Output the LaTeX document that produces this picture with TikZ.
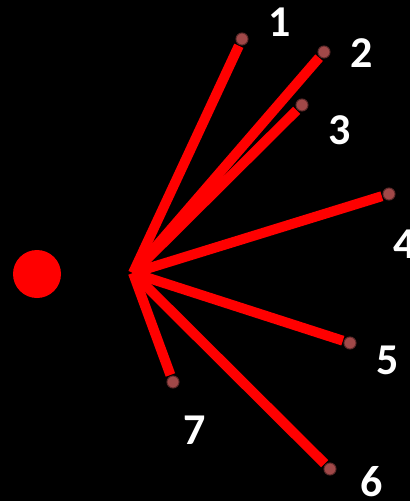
\documentclass[tikz,border=0pt]{standalone}
\usepackage{fontspec}
\setmainfont{Carlito}
\usetikzlibrary{positioning}
\definecolor{spoke}{RGB}{255,0,0}
\definecolor{tipdot}{RGB}{160,72,72}
\tikzset{tip/.style={circle,fill=tipdot,draw=tipdot!60!black,line width=1pt,inner sep=0pt,minimum size=12pt},
  num/.style={text=white,font=\bfseries\fontsize{44}{44}\selectfont,inner sep=0pt},
  line/.style={spoke,line width=10pt,shorten >=1pt}}

\begin{document}
\begin{tikzpicture}[x=1pt,y=-1pt]
\useasboundingbox[fill=black] (0,0) rectangle (410,501);
\node[circle,fill=spoke,minimum size=48pt,inner sep=0pt] (src) at (37,274) {};
\coordinate (hub) at (133,273);
\node[tip] (d1) at (242,39) {};
\node[tip] (d2) at (324,52) {};
\node[tip] (d3) at (302,105) {};
\node[tip] (d4) at (389,194) {};
\node[tip] (d5) at (350,343) {};
\node[tip] (d6) at (330,469) {};
\node[tip] (d7) at (173,382) {};
\draw[line] (hub) -- (d1);
\draw[line] (hub) -- (d2);
\draw[line] (hub) -- (d3);
\draw[line] (hub) -- (d4);
\draw[line] (hub) -- (d5);
\draw[line] (hub) -- (d6);
\draw[line] (hub) -- (d7);
\node[num] (n1) at (280,22) {1};
\node[num] (n2) at (362,53) {2};
\node[num] (n3) at (340,130) {3};
\node[num] (n4) at (405,244) {4};
\node[num] (n5) at (388,360) {5};
\node[num] (n6) at (372,482) {6};
\node[num] (n7) at (195,430) {7};
\end{tikzpicture}
\end{document}
